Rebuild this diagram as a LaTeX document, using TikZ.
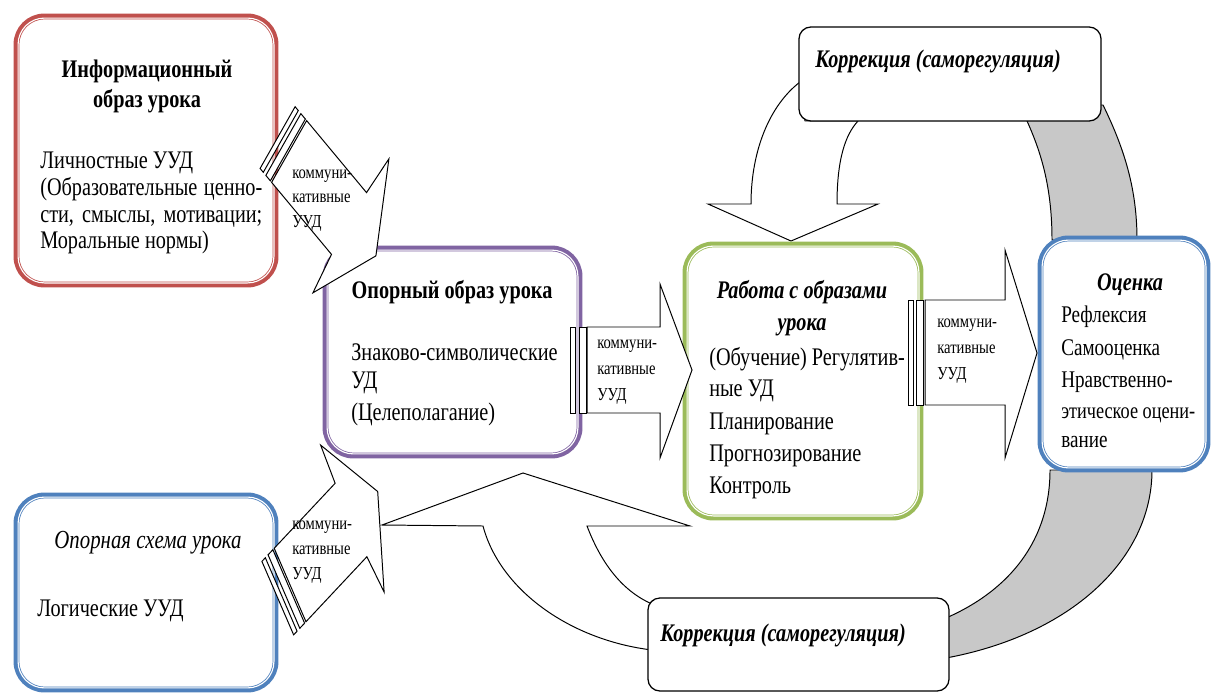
\documentclass[tikz,border=0pt]{standalone}
\usepackage{fontspec}
\setmainfont{Liberation Serif}[FakeStretch=0.8]
\usetikzlibrary{calc}
\definecolor{ured}{RGB}{192,80,77}
\definecolor{upurple}{RGB}{128,100,162}
\definecolor{ugreen}{RGB}{155,187,89}
\definecolor{ublue}{RGB}{79,129,189}
\definecolor{bandgray}{RGB}{200,200,200}
\newcommand\bodyf{\fontsize{18}{19.2}\selectfont}
\newcommand\smallf{\fontsize{13}{18}\selectfont}
\newcommand\boxstripe[1]{\draw[white, line width=0.8pt, rounded corners=0.66cm] ($(#1.north west)+(1.6,1.6)$) rectangle ($(#1.south east)+(-1.6,-1.6)$);}
\begin{document}
\begin{tikzpicture}[x=0.025cm,y=-0.025cm,
  ubox/.style={rectangle, rounded corners=0.7cm, fill=white, draw=#1, line width=4.2pt, inner sep=0pt, outer sep=0pt},
  cbox/.style={rectangle, rounded corners=0.3cm, fill=white, draw=black, line width=0.9pt, inner sep=0pt, outer sep=0pt},
  blockarrow/.style={draw=black, line width=0.7pt, fill=white, line join=miter},
  band/.style={draw=black, line width=0.7pt, fill=bandgray},
  txt/.style={inner sep=0pt, font=\bodyf},
  ctxt/.style={inner sep=0pt, font=\smallf, anchor=base west},
]
\useasboundingbox (0,0) rectangle (1214,696);

% gray bands
\path[band] (1027,121) .. controls (1040,150) and (1052,185) .. (1052,240)
  -- (1137,240) .. controls (1137,190) and (1125,150) .. (1103,105) -- (1090,105) -- cycle;
\path[band] (1050,470) .. controls (1050,540) and (1010,590) .. (946,618)
  -- (946,658) .. controls (1070,635) and (1152,560) .. (1152,470) -- cycle;

% curved arrows
\path[blockarrow] (800,82) .. controls (770,105) and (751,150) .. (751,204)
  -- (708,204) -- (791,241) -- (878,204) -- (837,204)
  .. controls (837,160) and (845,135) .. (858,121) -- (805,121) -- cycle;
\path[blockarrow] (483,526) -- (382,525) -- (523,473) -- (690,526) -- (587,526)
  .. controls (600,560) and (620,590) .. (652,604) -- (652,650)
  .. controls (570,640) and (500,590) .. (483,526) -- cycle;

% boxes
\node[ubox=ured, minimum width=6.475cm, minimum height=6.7cm] (info) at (146,150.5) {};
\boxstripe{info}
\node[ubox=upurple, minimum width=6.35cm, minimum height=5.175cm] (opor) at (452.5,352) {};
\boxstripe{opor}
\node[ubox=ugreen, minimum width=5.875cm, minimum height=6.825cm] (work) at (803,381) {};
\boxstripe{work}
\node[ubox=ublue, minimum width=4.175cm, minimum height=5.775cm] (ocen) at (1124,354) {};
\boxstripe{ocen}
\node[ubox=ublue, minimum width=6.475cm, minimum height=4.85cm] (schema) at (146,592.5) {};
\boxstripe{schema}
\node[cbox, minimum width=7.55cm, minimum height=2.35cm] (kortop) at (950,74) {};
\node[cbox, minimum width=7.525cm, minimum height=2.325cm] (korbot) at (798.5,644.5) {};

% straight arrows
\draw[blockarrow] (570,327) -- (575,327) -- (575,413) -- (570,413) -- cycle;
\draw[blockarrow] (579,327) -- (586,327) -- (586,413) -- (579,413) -- cycle;
\draw[blockarrow] (587,327) -- (660,327) -- (660,284) -- (692,370) -- (660,458) -- (660,413) -- (587,413) -- cycle;

\draw[blockarrow] (908,300) -- (913,300) -- (913,405) -- (908,405) -- cycle;
\draw[blockarrow] (916,300) -- (923,300) -- (923,405) -- (916,405) -- cycle;
\draw[blockarrow] (925,300) -- (1005,300) -- (1005,250) -- (1037,353) -- (1005,458) -- (1005,405) -- (925,405) -- cycle;

\begin{scope}[shift={(349,223.5)}, x={(0.016cm,-0.01925cm)}, y={(-0.012325cm,-0.02175cm)}]
  \draw[blockarrow] (-93.5,-35.5) -- (0,-35.5) -- (3,-77) -- (42,0) -- (3,77) -- (0,35.5) -- (-93.5,35.5) -- cycle;
  \draw[blockarrow] (-95.5,-35.5) -- (-102.5,-35.5) -- (-102.5,35.5) -- (-95.5,35.5) -- cycle;
  \draw[blockarrow] (-106.5,-35.5) -- (-111.5,-35.5) -- (-111.5,35.5) -- (-106.5,35.5) -- cycle;
\end{scope}
\begin{scope}[shift={(351,520)}, x={(0.0171cm,0.01825cm)}, y={(0.009925cm,-0.02295cm)}]
  \draw[blockarrow] (-89,-40) -- (0,-40) -- (2,-80) -- (39,0) -- (2,80) -- (0,40) -- (-89,40) -- cycle;
  \draw[blockarrow] (-91,-40) -- (-98,-40) -- (-98,40) -- (-91,40) -- cycle;
  \draw[blockarrow] (-102,-40) -- (-107,-40) -- (-107,40) -- (-102,40) -- cycle;
\end{scope}

% texts box 1
\node[txt, anchor=base, font=\bodyf\bfseries] (t1a) at (147,77) {Информационный};
\node[txt, anchor=base, font=\bodyf\bfseries] (t1b) at (147,107) {образ урока};
\node[txt, anchor=base west] (t1c) at (40,168) {Личностные УУД};
\node[txt, anchor=base west] (t1d) at (40,195) {\makebox[5.55cm][s]{(Образовательные ценно-}};
\node[txt, anchor=base west] (t1e) at (40,222) {\makebox[5.55cm][s]{сти, смыслы, мотивации;}};
\node[txt, anchor=base west] (t1f) at (40,248) {Моральные нормы)};
% box 2
\node[txt, anchor=base, font=\bodyf\bfseries] (t2a) at (452,298) {Опорный образ урока};
\node[txt, anchor=base west] (t2b) at (351,360) {Знаково-символические};
\node[txt, anchor=base west] (t2c) at (351,388) {УД};
\node[txt, anchor=base west] (t2d) at (351,420) {(Целеполагание)};
% box 3
\node[txt, anchor=base, font=\bodyf\bfseries\itshape] (t3a) at (802,298) {Работа с образами};
\node[txt, anchor=base, font=\bodyf\bfseries\itshape] (t3b) at (802,330) {урока};
\node[txt, anchor=base west] (t3c) at (709,365) {(Обучение) Регулятив-};
\node[txt, anchor=base west] (t3d) at (709,396) {ные УД};
\node[txt, anchor=base west] (t3e) at (709,429) {Планирование};
\node[txt, anchor=base west] (t3f) at (709,461) {Прогнозирование};
\node[txt, anchor=base west] (t3g) at (709,493) {Контроль};
% box 4
\node[txt, anchor=base, font=\bodyf\bfseries\itshape] (t4a) at (1130,290) {Оценка};
\node[txt, anchor=base west, font=\fontsize{17}{19}\selectfont] (t4b) at (1061,322) {Рефлексия};
\node[txt, anchor=base west, font=\fontsize{17}{19}\selectfont] (t4c) at (1061,355) {Самооценка};
\node[txt, anchor=base west, font=\fontsize{17}{19}\selectfont] (t4d) at (1061,387) {Нравственно-};
\node[txt, anchor=base west, font=\fontsize{17}{19}\selectfont] (t4e) at (1061,418) {\resizebox{3.35cm}{!}{этическое оцени-}};
\node[txt, anchor=base west, font=\fontsize{17}{19}\selectfont] (t4f) at (1061,447) {вание};
% box 5
\node[txt, anchor=base, font=\fontsize{18.5}{19.2}\selectfont\itshape] (t5a) at (148,548) {Опорная схема урока};
\node[txt, anchor=base west] (t5b) at (37,616) {Логические УУД};
% correction boxes
\node[txt, anchor=base west, font=\bodyf\bfseries\itshape] (tk1) at (815,68) {Коррекция (саморегуляция)};
\node[txt, anchor=base west, font=\bodyf\bfseries\itshape] (tk2) at (660,641) {Коррекция (саморегуляция)};

% arrow texts
\node[ctxt] (a1a) at (292,178) {коммуни-};
\node[ctxt] (a1b) at (292,202) {кативные};
\node[ctxt] (a1c) at (292,227) {УУД};
\node[ctxt] (a2a) at (597,348) {коммуни-};
\node[ctxt] (a2b) at (597,374) {кативные};
\node[ctxt] (a2c) at (597,400) {УУД};
\node[ctxt] (a3a) at (937,327) {коммуни-};
\node[ctxt] (a3b) at (937,353) {кативные};
\node[ctxt] (a3c) at (937,379) {УУД};
\node[ctxt] (a4a) at (292,529) {коммуни-};
\node[ctxt] (a4b) at (292,554) {кативные};
\node[ctxt] (a4c) at (292,579) {УУД};
\end{tikzpicture}
\end{document}
